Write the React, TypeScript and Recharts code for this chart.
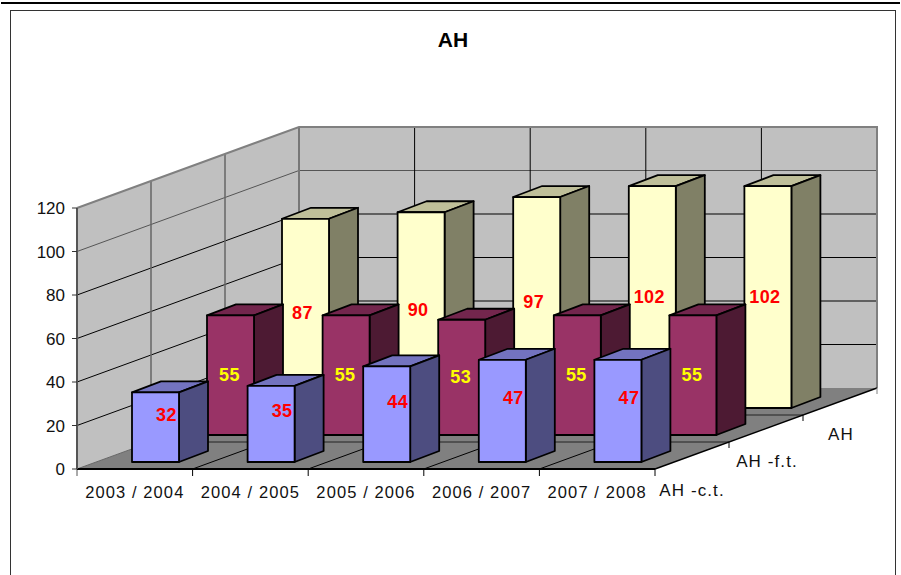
import { BarChart, Bar, XAxis, YAxis, LabelList, usePlotArea } from 'recharts';

const categories = ['2003 / 2004', '2004 / 2005', '2005 / 2006', '2006 / 2007', '2007 / 2008'];
const ahCt = [32, 35, 44, 47, 47];
const ahFt = [55, 55, 53, 55, 55];
const ahTotal = [87, 90, 97, 102, 102];
const depthLabels = ['AH -c.t.', 'AH -f.t.', 'AH'];
const yTicks = [0, 20, 40, 60, 80, 100, 120];

const chartData = categories.map((name, i) => ({
  name,
  ct: ahCt[i],
  ft: ahFt[i],
  total: ahTotal[i],
}));

const FONT = '"Liberation Sans", Arial, sans-serif';
const WALL = '#C0C0C0';
const FLOOR = '#808080';

// depth of the whole box, and of one prism
const DEPTH_X = 222;
const DEPTH_Y = -81;
const BAR_DEPTH_X = 29;
const BAR_DEPTH_Y = -11;

const ROWS = {
  ct: { dx: 21, dy: -7, front: '#9999FF', top: '#7373BF', side: '#4D4D80', label: '#FF0000', labelDx: 11, labelDy: -13 },
  ft: { dx: 96, dy: -34, front: '#993366', top: '#73264D', side: '#4D1A33', label: '#FFFF00', labelDx: -1, labelDy: -1 },
  total: { dx: 171, dy: -61, front: '#FFFFCC', top: '#BFBF99', side: '#808066', label: '#FF0000', labelDx: -3, labelDy: -1 },
};

type RowKey = keyof typeof ROWS;

function prismShape(rowKey: RowKey) {
  const row = ROWS[rowKey];
  return (props: any) => {
    const x = props.x + row.dx;
    const y = props.y + row.dy;
    const w = props.width;
    const h = props.height;
    const common = { stroke: '#000', strokeWidth: 1.8, strokeLinejoin: 'round' as const };
    return (
      <g>
        <polygon
          points={`${x},${y} ${x + BAR_DEPTH_X},${y + BAR_DEPTH_Y} ${x + w + BAR_DEPTH_X},${y + BAR_DEPTH_Y} ${x + w},${y}`}
          fill={row.top}
          {...common}
        />
        <polygon
          points={`${x + w},${y} ${x + w + BAR_DEPTH_X},${y + BAR_DEPTH_Y} ${x + w + BAR_DEPTH_X},${y + h + BAR_DEPTH_Y} ${x + w},${y + h}`}
          fill={row.side}
          {...common}
        />
        <rect x={x} y={y} width={w} height={h} fill={row.front} {...common} />
      </g>
    );
  };
}

function valueLabel(rowKey: RowKey) {
  const row = ROWS[rowKey];
  return (props: any) => (
    <text
      x={props.x + props.width / 2 + row.dx + row.labelDx}
      y={props.y + props.height / 2 + row.dy + row.labelDy}
      dy="0.36em"
      textAnchor="middle"
      fontFamily={FONT}
      fontSize={18}
      fontWeight="bold"
      letterSpacing={0.4}
      fill={row.label}
    >
      {props.value}
    </text>
  );
}

// walls, floor and the gridlines on them
function Box3D() {
  const plot = usePlotArea();
  if (!plot) return null;
  const { x, y, width, height } = plot;
  const bottom = y + height;
  const right = x + width;
  const band = width / categories.length;
  const yAt = (v: number) => bottom - (v / 120) * height;

  return (
    <g>
      <polygon
        points={`${x},${y} ${x + DEPTH_X},${y + DEPTH_Y} ${x + DEPTH_X},${bottom + DEPTH_Y} ${x},${bottom}`}
        fill={WALL}
      />
      <polygon
        points={`${x + DEPTH_X},${y + DEPTH_Y} ${right + DEPTH_X},${y + DEPTH_Y} ${right + DEPTH_X},${bottom + DEPTH_Y} ${x + DEPTH_X},${bottom + DEPTH_Y}`}
        fill={WALL}
      />
      <polygon
        points={`${x},${bottom} ${right},${bottom} ${right + DEPTH_X},${bottom + DEPTH_Y} ${x + DEPTH_X},${bottom + DEPTH_Y}`}
        fill={FLOOR}
      />
      {yTicks.slice(1, -1).map((v) => (
        <polyline
          key={v}
          points={`${x},${yAt(v)} ${x + DEPTH_X},${yAt(v) + DEPTH_Y} ${right + DEPTH_X},${yAt(v) + DEPTH_Y}`}
          fill="none"
          stroke={v === 100 ? '#555' : '#000'}
          strokeWidth={1}
        />
      ))}
      {[1, 2].map((d) => (
        <g key={d}>
          <line
            x1={x + (DEPTH_X * d) / 3}
            y1={y + (DEPTH_Y * d) / 3}
            x2={x + (DEPTH_X * d) / 3}
            y2={bottom + (DEPTH_Y * d) / 3}
            stroke="#666"
            strokeWidth={1.5}
          />
          <line
            x1={x + (DEPTH_X * d) / 3}
            y1={bottom + (DEPTH_Y * d) / 3}
            x2={right + (DEPTH_X * d) / 3}
            y2={bottom + (DEPTH_Y * d) / 3}
            stroke="#222"
            strokeWidth={1}
          />
        </g>
      ))}
      {categories.slice(1).map((c, i) => {
        const cx = x + band * (i + 1);
        return (
          <polyline
            key={c}
            points={`${cx},${bottom} ${cx + DEPTH_X},${bottom + DEPTH_Y} ${cx + DEPTH_X},${y + DEPTH_Y}`}
            fill="none"
            stroke="#000"
            strokeWidth={1}
          />
        );
      })}
      <line x1={x} y1={bottom} x2={x + DEPTH_X} y2={bottom + DEPTH_Y} stroke="#666" strokeWidth={1} />
      <line x1={x + DEPTH_X} y1={y + DEPTH_Y} x2={x + DEPTH_X} y2={bottom + DEPTH_Y} stroke="#777" strokeWidth={2} />
      <polyline
        points={`${x},${y} ${x + DEPTH_X},${y + DEPTH_Y} ${right + DEPTH_X},${y + DEPTH_Y} ${right + DEPTH_X},${bottom + DEPTH_Y}`}
        fill="none"
        stroke="#808080"
        strokeWidth={2}
      />
      <line x1={right} y1={bottom} x2={right + DEPTH_X} y2={bottom + DEPTH_Y} stroke="#000" strokeWidth={1.5} />
    </g>
  );
}

// tick marks between categories and the labels along the depth axis
function AxisExtras() {
  const plot = usePlotArea();
  if (!plot) return null;
  const { x, y, width, height } = plot;
  const bottom = y + height;
  const right = x + width;
  const band = width / categories.length;
  const labelX = [692, 767, 841];
  const labelY = [490, 461, 434];
  return (
    <g>
      {[0, 1, 2, 3, 4, 5].map((i) => (
        <line key={i} x1={x + band * i} y1={bottom} x2={x + band * i} y2={bottom + 7} stroke={i === 0 ? '#555' : '#000'} strokeWidth={1} />
      ))}
      {[1, 2, 3].map((d) => {
        const tx = right + (DEPTH_X * d) / 3;
        const ty = bottom + (DEPTH_Y * d) / 3;
        return <line key={d} x1={tx} y1={ty} x2={tx} y2={ty + 6} stroke={d === 3 ? '#808080' : '#000'} strokeWidth={1} />;
      })}
      {depthLabels.map((label, i) => (
        <text
          key={label}
          x={labelX[i]}
          y={labelY[i]}
          dy="0.36em"
          textAnchor="middle"
          fontFamily={FONT}
          fontSize={17}
          letterSpacing={1.1}
          fill="#111"
        >
          {label}
        </text>
      ))}
    </g>
  );
}

export default function App() {
  return (
    <div style={{ position: 'absolute', left: 0, top: 0, width: 901, height: 575, background: '#fff', overflow: 'hidden' }}>
      <div style={{ position: 'absolute', left: 1, top: 2, width: 899, height: 2, background: '#000' }} />
      <div style={{ position: 'absolute', left: 10, top: 10, width: 884, height: 600, border: '1px solid #333', boxSizing: 'content-box' }} />
      <BarChart
        width={901}
        height={575}
        data={chartData}
        margin={{ left: 17, right: 246, top: 208, bottom: 76 }}
        style={{ position: 'absolute', left: 0, top: 0 }}
      >
        <Box3D />
        <text x={453} y={39} dy="0.36em" textAnchor="middle" fontFamily={FONT} fontSize={21} fontWeight="bold" fill="#000">
          AH
        </text>
        <XAxis
          xAxisId="ct"
          dataKey="name"
          interval={0}
          tickLine={false}
          axisLine={{ stroke: '#000', strokeWidth: 2 }}
          tick={{ fontFamily: FONT, fontSize: 16.5, letterSpacing: 1.1, fill: '#111', dy: 9 }}
        />
        <XAxis xAxisId="ft" dataKey="name" hide />
        <XAxis xAxisId="total" dataKey="name" hide />
        <YAxis
          domain={[0, 120]}
          ticks={yTicks}
          interval={0}
          tickSize={5}
          tickMargin={7}
          axisLine={{ stroke: '#555', strokeWidth: 2 }}
          tickLine={{ stroke: '#333' }}
          tick={{ fontFamily: FONT, fontSize: 17, fill: '#111' }}
        />
        <Bar xAxisId="total" dataKey="total" barSize={47} shape={prismShape('total')} isAnimationActive={false}>
          <LabelList dataKey="total" content={valueLabel('total')} />
        </Bar>
        <Bar xAxisId="ft" dataKey="ft" barSize={47} shape={prismShape('ft')} isAnimationActive={false}>
          <LabelList dataKey="ft" content={valueLabel('ft')} />
        </Bar>
        <Bar xAxisId="ct" dataKey="ct" barSize={47} shape={prismShape('ct')} isAnimationActive={false}>
          <LabelList dataKey="ct" content={valueLabel('ct')} />
        </Bar>
        <AxisExtras />
      </BarChart>
    </div>
  );
}
